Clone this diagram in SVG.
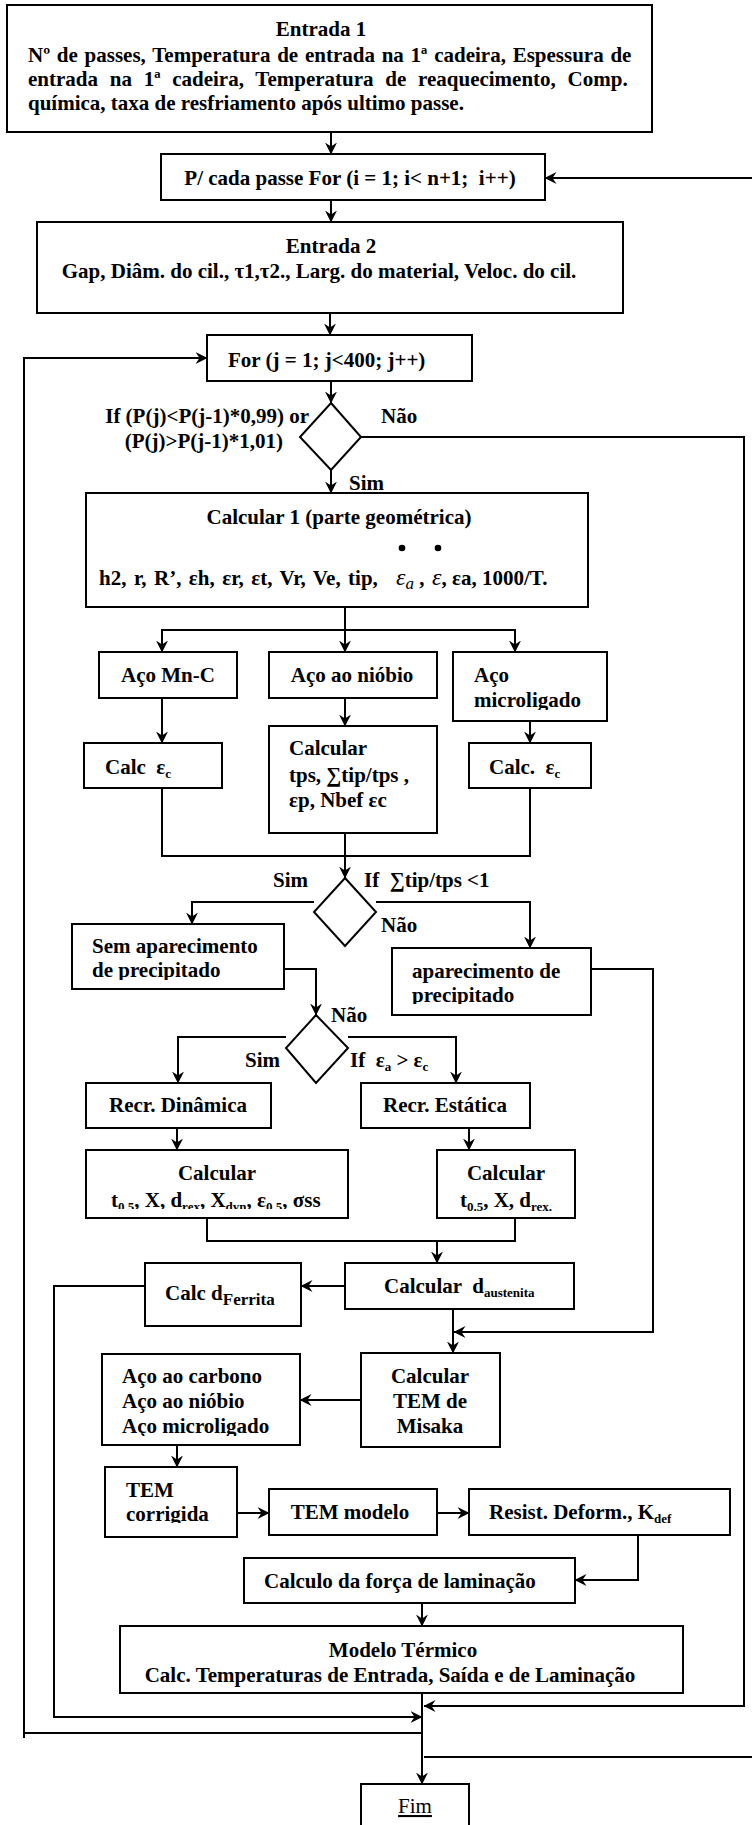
<svg xmlns="http://www.w3.org/2000/svg" width="752" height="1825" viewBox="0 0 752 1825">
<style>
.b{fill:#fff;stroke:#000;stroke-width:2}
.t{font-family:"Liberation Serif","Times New Roman",serif;font-size:21px;font-weight:bold;fill:#000}
.m{text-anchor:middle}
.e{text-anchor:end}
.c{fill:none;stroke:#000;stroke-width:2}
.a{marker-end:url(#ah)}
.i{font-style:italic;font-weight:normal}
</style>
<defs>
<marker id="ah" viewBox="0 0 12 12" refX="11.5" refY="6" markerWidth="12" markerHeight="12" markerUnits="userSpaceOnUse" orient="auto"><path d="M0,0 L12,6 L0,12 L4,6 Z" fill="#000"/></marker>
<clipPath id="clMicro"><rect x="455" y="654" width="150" height="56"/></clipPath>
<clipPath id="clSem"><rect x="74" y="926" width="208" height="54"/></clipPath>
<clipPath id="clApar"><rect x="394" y="950" width="195" height="54"/></clipPath>
<clipPath id="clCalcL"><rect x="88" y="1152" width="258" height="57"/></clipPath>
<clipPath id="clAco"><rect x="104" y="1356" width="194" height="80"/></clipPath>
<clipPath id="clTemc"><rect x="107" y="1469" width="128" height="54"/></clipPath>
</defs>
<rect width="752" height="1825" fill="#fff"/>

<g id="connectors">
<path class="c a" d="M331,132 V154"/>
<path class="c a" d="M331,200 V222"/>
<path class="c a" d="M330,313 V335"/>
<path class="c a" d="M331,381 V403"/>
<path class="c a" d="M331,470 V493"/>
<path class="c a" d="M361,437 H744 V1706 H424"/>
<path class="c a" d="M24,1738 V358 H207"/>
<path class="c" d="M24,1733 H422"/>
<path class="c a" d="M424,1757 H753 V178 H545"/>
<path class="c a" d="M345,607 V652"/>
<path class="c a" d="M345,630 H162 V652"/>
<path class="c a" d="M345,630 H515 V652"/>
<path class="c a" d="M162,698 V743"/>
<path class="c a" d="M345,698 V726"/>
<path class="c a" d="M530,721 V743"/>
<path class="c" d="M162,788 V856 H530 V788"/>
<path class="c a" d="M345,833 V878"/>
<path class="c a" d="M314,902 H192 V924"/>
<path class="c a" d="M376,902 H530 V948"/>
<path class="c a" d="M284,969 H316 V1015"/>
<path class="c a" d="M591,969 H653 V1332 H454"/>
<path class="c a" d="M286,1037 H178 V1083"/>
<path class="c a" d="M348,1037 H456 V1083"/>
<path class="c a" d="M177,1128 V1150"/>
<path class="c a" d="M469,1128 V1150"/>
<path class="c" d="M207,1218 V1241 H515 V1218"/>
<path class="c a" d="M437,1241 V1263"/>
<path class="c a" d="M345,1286 H301"/>
<path class="c a" d="M145,1286 H54 V1717 H422"/>
<path class="c a" d="M453,1309 V1353"/>
<path class="c a" d="M361,1400 H300"/>
<path class="c a" d="M177,1445 V1467"/>
<path class="c a" d="M237,1513 H269"/>
<path class="c a" d="M437,1513 H469"/>
<path class="c a" d="M638,1535 V1580 H575"/>
<path class="c a" d="M422,1603 V1626"/>
<path class="c a" d="M422,1693 V1784"/>
</g>

<g id="entrada1">
<rect class="b" x="7" y="5" width="645" height="127"/>
<text class="t m" x="321" y="36">Entrada 1</text>
<text class="t" x="28" y="62" word-spacing="1.5">Nº de passes, Temperatura de entrada na 1ª cadeira, Espessura de</text>
<text class="t" x="28" y="86" word-spacing="6.5">entrada na 1ª cadeira, Temperatura de reaquecimento, Comp.</text>
<text class="t" x="28" y="110">química, taxa de resfriamento após ultimo passe.</text>
</g>

<g id="loop-i">
<rect class="b" x="161" y="154" width="384" height="46"/>
<text class="t m" x="350" y="185" xml:space="preserve">P/ cada passe For (i = 1; i&lt; n+1;  i++)</text>
</g>

<g id="entrada2">
<rect class="b" x="37" y="222" width="586" height="91"/>
<text class="t m" x="331" y="253">Entrada 2</text>
<text class="t m" x="319" y="278">Gap, Diâm. do cil., τ1,τ2., Larg. do material, Veloc. do cil.</text>
</g>

<g id="loop-j">
<rect class="b" x="207" y="335" width="265" height="46"/>
<text class="t" x="228" y="367">For (j = 1; j&lt;400; j++)</text>
</g>

<g id="decisao-p">
<polygon class="b" points="331,403 361,437 331,470 300,437"/>
<text class="t e" x="309" y="423">If (P(j)&lt;P(j-1)*0,99) or</text>
<text class="t e" x="283" y="448">(P(j)&gt;P(j-1)*1,01)</text>
<text class="t" x="381" y="423">Não</text>
<text class="t" x="349" y="490">Sim</text>
</g>

<g id="calcular1">
<rect class="b" x="86" y="493" width="502" height="114"/>
<text class="t m" x="339" y="524">Calcular 1 (parte geométrica)</text>
<circle cx="402" cy="548" r="3.3"/>
<circle cx="438" cy="548" r="3.3"/>
<text class="t" y="585" xml:space="preserve"><tspan x="99" word-spacing="2.2">h2, r, R’, εh, εr, εt, Vr, Ve, tip,</tspan><tspan x="396" class="i" font-size="24">ε</tspan><tspan class="i" font-size="17" baseline-shift="-4">a</tspan><tspan> , </tspan><tspan x="432" class="i" font-size="24">ε</tspan><tspan>, εa, 1000/T.</tspan></text>
</g>

<g id="aco-mnc">
<rect class="b" x="99" y="652" width="138" height="46"/>
<text class="t m" x="168" y="682">Aço Mn-C</text>
</g>
<g id="aco-niobio">
<rect class="b" x="269" y="652" width="168" height="46"/>
<text class="t m" x="352" y="682">Aço ao nióbio</text>
</g>
<g id="aco-micro">
<rect class="b" x="453" y="652" width="154" height="69"/>
<g clip-path="url(#clMicro)">
<text class="t" x="474" y="682">Aço</text>
<text class="t" x="474" y="707">microligado</text>
</g>
</g>

<g id="calc-ec-mnc">
<rect class="b" x="84" y="743" width="138" height="45"/>
<text class="t" x="105" y="774" xml:space="preserve">Calc  ε<tspan font-size="13" baseline-shift="-4">c</tspan></text>
</g>
<g id="calc-niobio">
<rect class="b" x="269" y="726" width="168" height="107"/>
<text class="t" x="289" y="755">Calcular</text>
<text class="t" x="289" y="782">tps, ∑tip/tps ,</text>
<text class="t" x="289" y="807">εp, Nbef εc</text>
</g>
<g id="calc-ec-micro">
<rect class="b" x="469" y="743" width="122" height="45"/>
<text class="t" x="489" y="774" xml:space="preserve">Calc.  ε<tspan font-size="13" baseline-shift="-4">c</tspan></text>
</g>

<g id="decisao-tip">
<polygon class="b" points="345,878 376,912 345,946 314,912"/>
<text class="t" x="273" y="887">Sim</text>
<text class="t" x="364" y="887" xml:space="preserve">If  ∑tip/tps &lt;1</text>
<text class="t" x="381" y="932">Não</text>
</g>

<g id="sem-precipitado">
<rect class="b" x="72" y="924" width="212" height="65"/>
<g clip-path="url(#clSem)">
<text class="t" x="92" y="953">Sem aparecimento</text>
<text class="t" x="92" y="977">de precipitado</text>
</g>
</g>
<g id="com-precipitado">
<rect class="b" x="392" y="948" width="199" height="67"/>
<g clip-path="url(#clApar)">
<text class="t" x="412" y="978">aparecimento de</text>
<text class="t" x="412" y="1002">precipitado</text>
</g>
</g>

<g id="decisao-eps">
<polygon class="b" points="316,1015 348,1048 316,1083 286,1048"/>
<text class="t" x="331" y="1022">Não</text>
<text class="t" x="245" y="1067">Sim</text>
<text class="t" x="350" y="1067" xml:space="preserve">If  ε<tspan font-size="13" baseline-shift="-4">a</tspan> &gt; ε<tspan font-size="13" baseline-shift="-4">c</tspan></text>
</g>

<g id="recr-dinamica">
<rect class="b" x="86" y="1083" width="185" height="45"/>
<text class="t m" x="178" y="1112">Recr. Dinâmica</text>
</g>
<g id="recr-estatica">
<rect class="b" x="361" y="1083" width="169" height="45"/>
<text class="t m" x="445" y="1112">Recr. Estática</text>
</g>

<g id="calc-dinamica">
<rect class="b" x="86" y="1150" width="262" height="68"/>
<text class="t m" x="217" y="1180">Calcular</text>
<g clip-path="url(#clCalcL)">
<text class="t" x="111" y="1207">t<tspan font-size="13" baseline-shift="-4">0.5</tspan>, X, d<tspan font-size="13" baseline-shift="-4">rex</tspan>, X<tspan font-size="13" baseline-shift="-4">dyn</tspan>, ε<tspan font-size="13" baseline-shift="-4">0.5</tspan>, σss</text>
</g>
</g>
<g id="calc-estatica">
<rect class="b" x="437" y="1150" width="138" height="68"/>
<text class="t m" x="506" y="1180">Calcular</text>
<text class="t m" x="506" y="1207">t<tspan font-size="13" baseline-shift="-4">0.5</tspan>, X, d<tspan font-size="13" baseline-shift="-4">rex.</tspan></text>
</g>

<g id="calc-austenita">
<rect class="b" x="345" y="1263" width="229" height="46"/>
<text class="t" x="384" y="1293" xml:space="preserve">Calcular  d<tspan font-size="13" baseline-shift="-4">austenita</tspan></text>
</g>
<g id="calc-ferrita">
<rect class="b" x="145" y="1263" width="156" height="63"/>
<text class="t" x="165" y="1300">Calc d<tspan font-size="17" baseline-shift="-5">Ferrita</tspan></text>
</g>

<g id="tem-misaka">
<rect class="b" x="361" y="1353" width="139" height="94"/>
<text class="t m" x="430" y="1383">Calcular</text>
<text class="t m" x="430" y="1408">TEM de</text>
<text class="t m" x="430" y="1433">Misaka</text>
</g>
<g id="tipos-aco">
<rect class="b" x="102" y="1354" width="198" height="91"/>
<g clip-path="url(#clAco)">
<text class="t" x="122" y="1383">Aço ao carbono</text>
<text class="t" x="122" y="1408">Aço ao nióbio</text>
<text class="t" x="122" y="1433">Aço microligado</text>
</g>
</g>

<g id="tem-corrigida">
<rect class="b" x="105" y="1467" width="132" height="70"/>
<g clip-path="url(#clTemc)">
<text class="t" x="126" y="1497">TEM</text>
<text class="t" x="126" y="1521">corrigida</text>
</g>
</g>
<g id="tem-modelo">
<rect class="b" x="269" y="1489" width="168" height="46"/>
<text class="t m" x="350" y="1519">TEM modelo</text>
</g>
<g id="resist-deform">
<rect class="b" x="469" y="1489" width="261" height="46"/>
<text class="t" x="489" y="1519">Resist. Deform., K<tspan font-size="13" baseline-shift="-4">def</tspan></text>
</g>

<g id="forca-laminacao">
<rect class="b" x="244" y="1558" width="331" height="45"/>
<text class="t" x="264" y="1588">Calculo da força de laminação</text>
</g>

<g id="modelo-termico">
<rect class="b" x="120" y="1626" width="563" height="67"/>
<text class="t m" x="403" y="1657">Modelo Térmico</text>
<text class="t m" x="390" y="1682">Calc. Temperaturas de Entrada, Saída e de Laminação</text>
</g>

<g id="fim">
<rect class="b" x="361" y="1784" width="108" height="46"/>
<text x="415" y="1813" text-anchor="middle" font-family="Liberation Serif, Times New Roman, serif" font-size="21" text-decoration="underline">Fim</text>
</g>
</svg>
